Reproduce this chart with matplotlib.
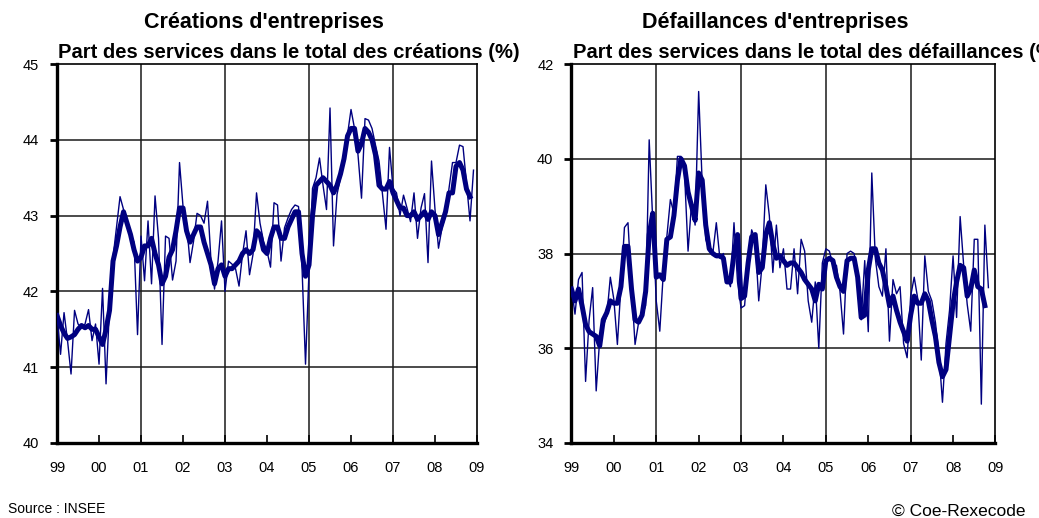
import numpy as np
import matplotlib.pyplot as plt

plt.rcParams['font.family'] = ['Liberation Sans', 'DejaVu Sans']

# Part des services (%), données mensuelles à partir de janvier 1999
creations_brut = [
    41.68, 41.17, 41.72, 41.35, 40.91, 41.75, 41.57, 41.52, 41.57, 41.76, 41.35, 41.57,
    41.04, 42.04, 40.78, 41.80, 42.45, 42.85, 43.25, 43.08, 42.93, 42.75, 42.65, 41.43,
    42.73, 42.14, 42.93, 42.10, 43.26, 42.70, 41.30, 42.73, 42.70, 42.15, 42.40, 43.70,
    43.12, 42.90, 42.38, 42.66, 43.03, 43.00, 42.90, 43.19, 42.40, 42.03, 42.40, 42.93,
    42.00, 42.40, 42.36, 42.30, 42.07, 42.49, 42.80, 42.22, 42.49, 43.30, 42.90, 42.66,
    42.53, 42.32, 43.17, 43.14, 42.40, 42.84, 42.97, 43.08, 43.14, 43.12, 42.31, 41.04,
    42.27, 43.36, 43.50, 43.76, 43.40, 43.08, 44.42, 42.60, 43.28, 43.50, 43.72, 44.07,
    44.40, 44.15, 43.80, 43.23, 44.28, 44.26, 44.15, 43.93, 43.72, 43.28, 42.82, 43.90,
    43.36, 43.30, 43.00, 43.27, 43.10, 42.92, 43.30, 42.70, 43.10, 43.29, 42.38, 43.72,
    43.08, 42.57, 42.84, 43.00, 43.36, 43.70, 43.70, 43.93, 43.91, 43.43, 42.93, 43.60,
]
creations_lisse = [
    41.68, 41.55, 41.45, 41.38, 41.40, 41.43, 41.50, 41.55, 41.52, 41.55, 41.50, 41.50,
    41.40, 41.30, 41.50, 41.75, 42.40, 42.60, 42.85, 43.05, 42.90, 42.75, 42.55, 42.40,
    42.45, 42.60, 42.60, 42.70, 42.50, 42.35, 42.10, 42.20, 42.45, 42.55, 42.80, 43.10,
    43.10, 42.80, 42.65, 42.75, 42.85, 42.85, 42.65, 42.50, 42.35, 42.10, 42.30, 42.35,
    42.20, 42.30, 42.30, 42.35, 42.40, 42.50, 42.55, 42.50, 42.55, 42.80, 42.75, 42.55,
    42.50, 42.70, 42.85, 42.85, 42.70, 42.70, 42.85, 42.95, 43.05, 43.05, 42.50, 42.20,
    42.35, 43.00, 43.40, 43.45, 43.50, 43.45, 43.40, 43.30, 43.40, 43.55, 43.75, 44.05,
    44.15, 44.15, 43.85, 43.95, 44.15, 44.10, 44.00, 43.80, 43.40, 43.35, 43.35, 43.45,
    43.30, 43.20, 43.10, 43.10, 43.00, 43.00, 43.05, 42.95, 43.00, 43.05, 42.95, 43.05,
    43.00, 42.75, 42.90, 43.05, 43.30, 43.30, 43.65, 43.70, 43.60, 43.35, 43.25,
]
defaillances_brut = [
    37.28, 36.72, 37.45, 37.60, 35.30, 36.60, 37.28, 35.10, 36.20, 36.47, 36.68, 37.50,
    37.03, 36.08, 37.31, 38.55, 38.65, 37.30, 36.08, 36.54, 36.68, 36.90, 40.40, 38.70,
    37.00, 36.36, 37.60, 38.36, 39.14, 38.85, 40.05, 40.05, 39.70, 38.05, 39.07, 38.60,
    41.42, 39.49, 38.30, 38.08, 38.00, 38.65, 37.90, 38.00, 37.50, 37.30, 38.65, 37.40,
    36.85, 36.90, 37.80, 38.50, 38.30, 37.00, 37.80, 39.45, 38.80, 37.60, 38.60, 37.70,
    38.10, 37.25, 37.25, 38.10, 37.15, 38.30, 38.05, 37.00, 36.55, 37.40, 36.00, 37.80,
    38.10, 38.05, 37.75, 37.75, 37.20, 36.30, 38.00, 38.05, 38.00, 37.50, 36.60, 37.85,
    36.35, 39.70, 37.90, 37.30, 37.10, 38.10, 36.15, 37.45, 37.15, 37.30, 36.10, 35.80,
    37.10, 37.50, 37.05, 35.75, 37.95, 37.20, 37.00, 36.55, 35.90, 34.86, 36.10, 36.80,
    37.95, 36.65, 38.78, 37.75, 36.93, 36.36, 38.30, 38.30, 34.82, 38.60, 37.28,
]
defaillances_lisse = [
    37.25, 37.00, 37.25, 36.90, 36.50, 36.35, 36.30, 36.25, 36.05, 36.60, 36.75, 37.00,
    36.95, 36.95, 37.30, 38.15, 38.15, 37.25, 36.60, 36.55, 36.70, 37.20, 38.40, 38.85,
    37.50, 37.55, 37.45, 38.30, 38.35, 38.80, 39.55, 40.00, 39.85, 39.30, 39.00, 38.70,
    39.70, 39.55, 38.60, 38.10, 38.00, 37.95, 37.95, 37.90, 37.40, 37.40, 38.00, 38.40,
    37.05, 37.10, 37.80, 38.35, 38.40, 37.60, 37.70, 38.40, 38.65, 38.20, 37.90, 37.95,
    37.85, 37.75, 37.80, 37.80, 37.70, 37.60, 37.45, 37.35, 37.25, 37.00, 37.35, 37.25,
    37.85, 37.90, 37.85, 37.50, 37.30, 37.20, 37.85, 37.90, 37.90, 37.50, 36.65, 36.70,
    37.65, 38.10, 38.10, 37.80, 37.65, 37.30, 36.90, 37.10, 36.80, 36.55, 36.35, 36.15,
    36.70, 37.10, 36.95, 36.95, 37.15, 37.00, 36.60, 36.25, 35.70, 35.40, 35.55, 36.25,
    36.95, 37.40, 37.75, 37.70, 37.10, 37.25, 37.65, 37.30, 37.25, 36.90,
]

annees = list(range(1999, 2010))
etiquettes = ['99', '00', '01', '02', '03', '04', '05', '06', '07', '08', '09']

NAVY = '#000080'


def mois(valeurs):
    return 1999 + np.arange(len(valeurs)) / 12


def habiller(ax, ymin, ymax, pas):
    ax.set_xlim(1999, 2009)
    ax.set_ylim(ymin, ymax)
    ax.set_xticks(annees)
    ax.set_xticklabels(etiquettes)
    yt = np.arange(ymin, ymax + pas / 2, pas)
    ax.set_yticks(yt)
    ax.set_yticklabels([f"{v:.0f}" for v in yt])
    for y in yt[1:-1]:
        ax.axhline(y, color='#1a1a1a', lw=1.1, zorder=1)
    for x in (2001, 2003, 2005, 2007):
        ax.axvline(x, color='#1a1a1a', lw=1.1, zorder=1)
    ax.tick_params(axis='x', direction='in', length=6, width=1.2, pad=13,
                   labelsize=10.5)
    ax.tick_params(axis='y', direction='out', length=5, width=2, pad=8,
                   labelsize=10.5)
    for cote in ('left', 'bottom'):
        ax.spines[cote].set_linewidth(2.4)
    for cote in ('top', 'right'):
        ax.spines[cote].set_linewidth(1.2)


fig = plt.figure(figsize=(10.39, 5.18), dpi=100)
ax1 = fig.add_axes([0.0549, 0.1448, 0.4042, 0.7316])
ax2 = fig.add_axes([0.5500, 0.1448, 0.4081, 0.7316])

ax1.plot(mois(creations_brut), creations_brut, color=NAVY, lw=1.0, zorder=3)
ax1.plot(mois(creations_lisse), creations_lisse, color=NAVY, lw=3.6, zorder=4)
habiller(ax1, 40, 45, 1)

ax2.plot(mois(defaillances_brut), defaillances_brut, color=NAVY, lw=1.0, zorder=3)
ax2.plot(mois(defaillances_lisse), defaillances_lisse, color=NAVY, lw=3.6, zorder=4)
habiller(ax2, 34, 42, 2)

fig.text(0.2545, 0.957, "Créations d'entreprises", ha='center', va='center',
         fontsize=15.5, fontweight='bold')
fig.text(0.0558, 0.899, "Part des services dans le total des créations (%)",
         ha='left', va='center', fontsize=14.5, fontweight='bold')
fig.text(0.746, 0.957, "Défaillances d'entreprises", ha='center', va='center',
         fontsize=15.5, fontweight='bold')
# le sous-titre de droite déborde du cadre, comme sur l'original
fig.text(0.5515, 0.899, "Part des services dans le total des défaillances (%)",
         ha='left', va='center', fontsize=14.5, fontweight='bold')

fig.text(0.008, 0.018, "Source : INSEE", ha='left', va='center', fontsize=10)
fig.text(0.987, 0.012, "© Coe-Rexecode", ha='right', va='center', fontsize=12.5)

fig.savefig('out.png', dpi=100)
